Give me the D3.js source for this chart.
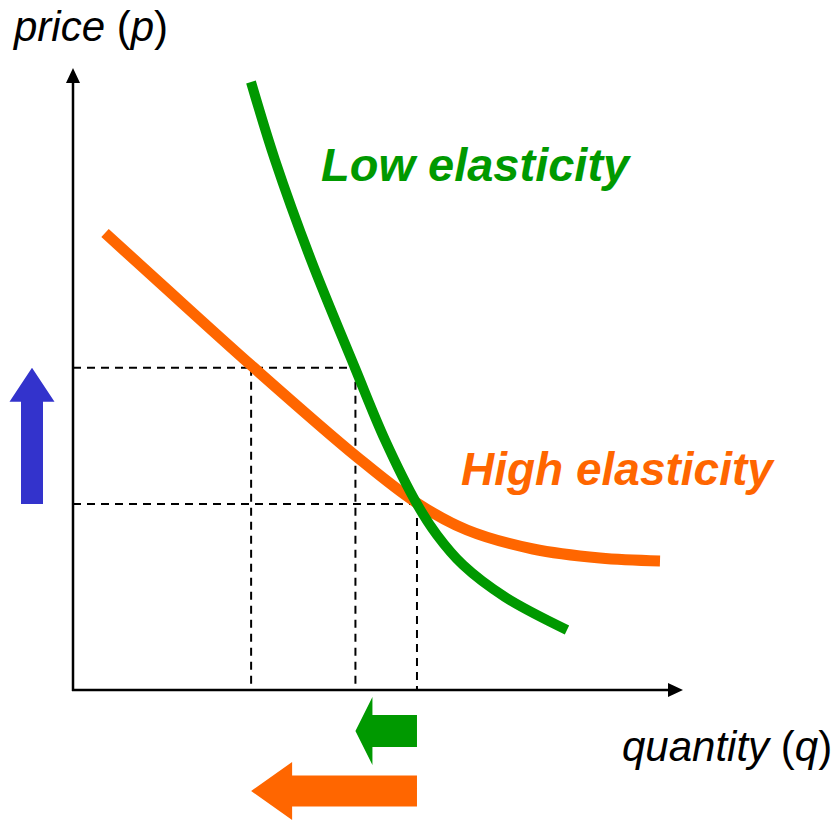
<!DOCTYPE html>
<html>
<head>
<meta charset="utf-8">
<script src="https://cdn.jsdelivr.net/npm/d3@7"></script>
<style>
  html, body { margin: 0; padding: 0; background: #fff; }
  svg { display: block; }
</style>
</head>
<body>
<svg id="chart" width="838" height="821"></svg>
<script>
// ---- Data (quantity q, price p in arbitrary units 0–100) ----
const lowElasticQ  = [29.18, 33.11, 39.02, 46.23, 51.15, 56.39, 59.67, 63.93, 70.82, 80.98];
const lowElasticP  = [97.75, 85.21, 69.13, 51.77, 40.19, 29.90, 24.92, 20.10, 14.95, 9.65];
const highElasticQ = [5.25, 14.26, 29.51, 46.56, 56.39, 64.59, 75.41, 86.39, 96.23];
const highElasticP = [73.47, 65.43, 51.93, 37.46, 30.06, 25.72, 22.67, 21.22, 20.74];
const priceLevels  = [29.9, 51.8];          // initial, raised
const quantityLevels = { initial: 56.39, lowElastic: 46.3, highElastic: 29.2 };
const labels = {
  yAxis: ["price", "p"],
  xAxis: ["quantity", "q"],
  low: "Low elasticity",
  high: "High elasticity"
};

// ---- Setup ----
const svg = d3.select("#chart");
const x = d3.scaleLinear().domain([0, 100]).range([73, 683]);
const y = d3.scaleLinear().domain([0, 100]).range([690, 68]);

const GREEN = "#009900", ORANGE = "#FF6600", BLUE = "#3333CC";

// ---- Dashed guide lines ----
const dash = svg.append("g")
  .attr("stroke", "#000").attr("stroke-width", 2).attr("stroke-dasharray", "8,6").attr("fill", "none");
dash.append("line").attr("x1", x(0)).attr("x2", x(quantityLevels.lowElastic))
  .attr("y1", y(priceLevels[1])).attr("y2", y(priceLevels[1]));
dash.append("line").attr("x1", x(0)).attr("x2", x(quantityLevels.initial))
  .attr("y1", y(priceLevels[0])).attr("y2", y(priceLevels[0]));
dash.append("line").attr("x1", x(quantityLevels.highElastic)).attr("x2", x(quantityLevels.highElastic))
  .attr("y1", y(priceLevels[1])).attr("y2", y(0));
dash.append("line").attr("x1", x(quantityLevels.lowElastic)).attr("x2", x(quantityLevels.lowElastic))
  .attr("y1", y(priceLevels[1])).attr("y2", y(0));
dash.append("line").attr("x1", x(quantityLevels.initial)).attr("x2", x(quantityLevels.initial))
  .attr("y1", y(priceLevels[0])).attr("y2", y(0));

// ---- Axes ----
const axes = svg.append("g");
axes.append("line").attr("x1", x(0)).attr("x2", x(0)).attr("y1", y(0) + 1).attr("y2", y(100) + 12)
  .attr("stroke", "#000").attr("stroke-width", 2.5);
axes.append("line").attr("x1", x(0) - 1).attr("x2", x(100) - 12).attr("y1", y(0)).attr("y2", y(0))
  .attr("stroke", "#000").attr("stroke-width", 2.5);
axes.append("path")
  .attr("d", `M${x(0)},${y(100)} L${x(0) - 7},${y(100) + 15} L${x(0) + 7},${y(100) + 15} Z`)
  .attr("fill", "#000");
axes.append("path")
  .attr("d", `M${x(100)},${y(0)} L${x(100) - 15},${y(0) - 7} L${x(100) - 15},${y(0) + 7} Z`)
  .attr("fill", "#000");

// ---- Curves ----
const line = d3.line().x(d => x(d[0])).y(d => y(d[1])).curve(d3.curveCatmullRom.alpha(0.5));
svg.append("path")
  .datum(d3.zip(highElasticQ, highElasticP))
  .attr("d", line).attr("fill", "none").attr("stroke", ORANGE).attr("stroke-width", 11);
svg.append("path")
  .datum(d3.zip(lowElasticQ, lowElasticP))
  .attr("d", line).attr("fill", "none").attr("stroke", GREEN).attr("stroke-width", 10);

// ---- Block arrows ----
function upArrow(cx, yBase, yTip, shaftW, headW, headH, color) {
  const p = d3.path();
  p.moveTo(cx - shaftW / 2, yBase);
  p.lineTo(cx - shaftW / 2, yTip + headH);
  p.lineTo(cx - headW / 2, yTip + headH);
  p.lineTo(cx, yTip);
  p.lineTo(cx + headW / 2, yTip + headH);
  p.lineTo(cx + shaftW / 2, yTip + headH);
  p.lineTo(cx + shaftW / 2, yBase);
  p.closePath();
  svg.append("path").attr("d", p.toString()).attr("fill", color);
}
function leftArrow(cy, xBase, xTip, shaftH, headH, headW, color) {
  const p = d3.path();
  p.moveTo(xBase, cy - shaftH / 2);
  p.lineTo(xTip + headW, cy - shaftH / 2);
  p.lineTo(xTip + headW, cy - headH / 2);
  p.lineTo(xTip, cy);
  p.lineTo(xTip + headW, cy + headH / 2);
  p.lineTo(xTip + headW, cy + shaftH / 2);
  p.lineTo(xBase, cy + shaftH / 2);
  p.closePath();
  svg.append("path").attr("d", p.toString()).attr("fill", color);
}
upArrow(32, y(priceLevels[0]), y(priceLevels[1]), 22, 45, 34, BLUE);
leftArrow(731, x(quantityLevels.initial), x(quantityLevels.lowElastic), 32, 68, 17, GREEN);
leftArrow(791, x(quantityLevels.initial), x(quantityLevels.highElastic), 31, 58, 41, ORANGE);

// ---- Text ----
const font = "'Liberation Sans', Arial, Helvetica, sans-serif";
function axisLabel(parts, tx, ty) {
  const t = svg.append("text").attr("x", tx).attr("y", ty)
    .attr("font-family", font).attr("font-size", 42).attr("fill", "#000");
  t.append("tspan").attr("font-style", "italic").text(parts[0]);
  t.append("tspan").text(" (");
  t.append("tspan").attr("font-style", "italic").text(parts[1]);
  t.append("tspan").text(")");
}
axisLabel(labels.yAxis, 14, 41);
axisLabel(labels.xAxis, 622, 761);

svg.append("text").attr("x", 321).attr("y", 181)
  .attr("font-family", font).attr("font-size", 47).attr("font-weight", "bold").attr("font-style", "italic")
  .attr("fill", GREEN).text(labels.low);
svg.append("text").attr("x", 461).attr("y", 485)
  .attr("font-family", font).attr("font-size", 46).attr("font-weight", "bold").attr("font-style", "italic")
  .attr("fill", ORANGE).text(labels.high);
</script>
</body>
</html>
